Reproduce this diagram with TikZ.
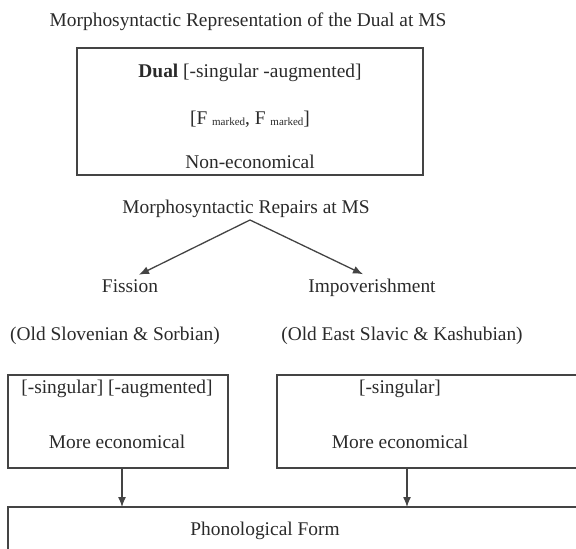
\documentclass[tikz,border=0pt]{standalone}
\usepackage{fontspec}
\setmainfont{Liberation Serif}
\usetikzlibrary{arrows.meta}
\definecolor{ink}{HTML}{2A2A2A}
\definecolor{rule}{HTML}{444444}
\newcommand{\mk}{{\fontsize{11}{13}\selectfont\raisebox{-0.35ex}{marked}}}
\tikzset{
	txt/.style={anchor=base, inner sep=0pt, outer sep=0pt, text=ink},
	frame/.style={draw=rule, line width=1.3pt, inner sep=0pt, outer sep=0pt, anchor=north west},
	arr/.style={draw=rule, line width=1.3pt, -{Latex[length=10pt,width=8pt]}}
}
\begin{document}
\begin{tikzpicture}[x=1pt, y=-1pt, every node/.append style={font=\fontsize{19.4}{23}\selectfont}]
			\useasboundingbox (0,0) rectangle (576,549);
			\node[txt] (title) at (248, 26){Morphosyntactic Representation of the Dual at MS};
			% top box
			\node[frame, minimum width=346pt, minimum height=127pt] (dualbox) at (77, 48){};
			\node[txt] (text1) at (250, 77){\textbf{Dual} [-singular -augmented]};
			\node[txt] (text2) at (250, 124){[F \mk, F \mk]};
			\node[txt] (text3) at (250, 168){Non-economical};
			\node[txt] (repairs) at (246, 213){Morphosyntactic Repairs at MS};
			\coordinate (fork) at (250, 220);
			\node[txt] (fission) at (130, 292){Fission};
			\node[txt] (impov) at (372, 292){Impoverishment};
			\node[txt] (text4) at (115, 340){(Old Slovenian \& Sorbian)};
			\node[txt] (text5) at (402, 340){(Old East Slavic \& Kashubian)};
			\path[arr,shorten >=10pt] (fork) -- (fission.north);
			\path[arr,shorten >=10pt] (fork) -- (impov.north);
			% lower boxes
			\node[frame, minimum width=220pt, minimum height=93pt] (leftbox) at (8, 375){};
			\node[frame, minimum width=300pt, minimum height=93pt] (rightbox) at (277, 375){};
			\node[txt] (text6) at (117, 393){[-singular] [-augmented]};
			\node[txt] (text7) at (117, 448){More economical};
			\node[txt] (text8) at (400, 393){[-singular]};
			\node[txt] (text9) at (400, 448){More economical};
			\node[frame, minimum width=600pt, minimum height=60pt] (pfbox) at (8, 507){};
			\node[txt] (text10) at (265, 535){Phonological Form};
			\path[arr] (leftbox.south -| 122,0) -- (pfbox.north -| 122,0);
			\path[arr] (rightbox.south -| 407,0) -- (pfbox.north -| 407,0);
		\end{tikzpicture}
\end{document}
